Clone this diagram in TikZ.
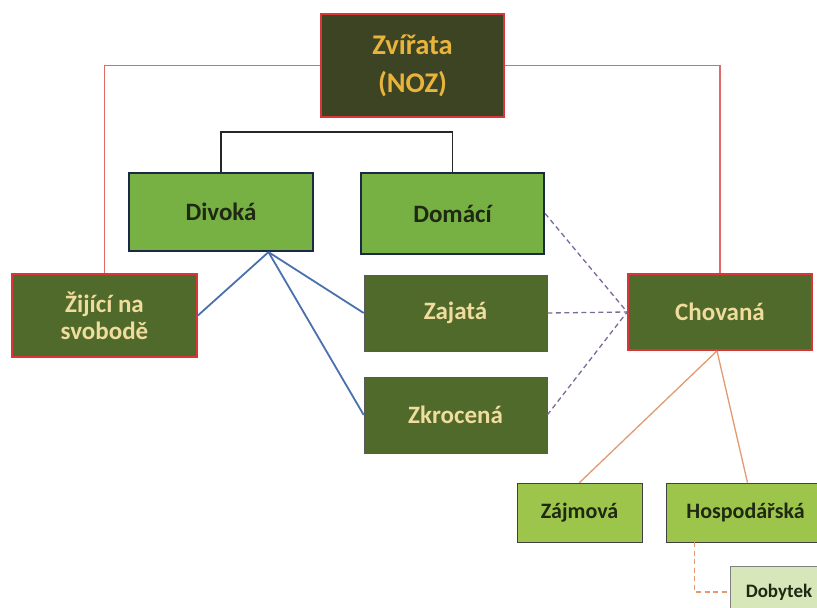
\documentclass[tikz,border=0pt]{standalone}
\usepackage{fontspec}
\setmainfont{Carlito}
\usetikzlibrary{calc}
\definecolor{zvfill}{HTML}{3C4423}
\definecolor{zvtext}{HTML}{E8B43C}
\definecolor{redb}{HTML}{D8363A}
\definecolor{redl}{HTML}{E06A6A}
\definecolor{olive}{HTML}{4F6A2B}
\definecolor{tan}{HTML}{F0DC9C}
\definecolor{green1}{HTML}{77B143}
\definecolor{navy}{HTML}{1B2846}
\definecolor{green2}{HTML}{9DC54C}
\definecolor{green3}{HTML}{D7E7B9}
\definecolor{bluel}{HTML}{4A70AE}
\definecolor{purpl}{HTML}{7C6A98}
\definecolor{orangel}{HTML}{E29A72}
\definecolor{darktext}{HTML}{1E2812}
\begin{document}
\begin{tikzpicture}[x=1pt,y=-1pt,
  box/.style={rectangle,inner sep=0pt,align=center,font=\bfseries\fontsize{25}{27}\selectfont},
  topbox/.style={box,fill=zvfill,draw=redb,line width=1.8pt,text=zvtext,font=\bfseries\fontsize{28.5}{38}\selectfont},
  redbox/.style={box,fill=olive,draw=redb,line width=1.8pt,text=tan},
  darkbox/.style={box,fill=olive,draw=gray!70!black,line width=0.6pt,text=tan},
  greenbox/.style={box,fill=green1,draw=navy,line width=2.2pt,text=darktext},
  lightbox/.style={box,fill=green2,draw=black!75,line width=0.8pt,text=darktext,font=\bfseries\fontsize{22}{26}\selectfont},
  palebox/.style={box,fill=green3,draw=gray,line width=0.6pt,text=darktext,font=\bfseries\fontsize{19}{22}\selectfont},
  redline/.style={draw=redl,line width=1.1pt},
  blackline/.style={draw=black!85,line width=1.6pt},
  blueline/.style={draw=bluel,line width=1.8pt},
  purpline/.style={draw=purpl,line width=1.3pt,dash pattern=on 5pt off 3.5pt},
  orangeline/.style={draw=orangel,line width=1.3pt},
  orangedash/.style={draw=orangel,line width=1.3pt,dash pattern=on 5pt off 3.5pt}]
\clip (0,0) rectangle (817,608);
\fill[white] (0,0) rectangle (817,608);
% nodes
\node[topbox,minimum width=183pt,minimum height=103pt] (zv) at (412.5,65.5) {Zvířata\\(NOZ)};
\node[greenbox,minimum width=184pt,minimum height=78pt] (div) at (221,212) {Divoká};
\node[greenbox,minimum width=183pt,minimum height=81pt] (dom) at (452.5,213.5) {Domácí};
\node[redbox,minimum width=185pt,minimum height=83pt] (zij) at (104.5,315.5) {Žijící na\\svobodě};
\node[darkbox,minimum width=183pt,minimum height=76pt] (zaj) at (455.5,313) {Zajatá};
\node[darkbox,minimum width=183pt,minimum height=76pt] (zkr) at (455.5,415) {Zkrocená};
\node[redbox,minimum width=184pt,minimum height=76pt] (chov) at (720,312) {Chovaná};
\node[lightbox,minimum width=125pt,minimum height=59pt] (zaj2) at (579.5,512.5) {Zájmová};
\node[lightbox,minimum width=159pt,minimum height=59pt] (hosp) at (745.5,512.5) {Hospodářská};
\node[palebox,minimum width=98pt,minimum height=52pt] (dob) at (779,592) {Dobytek};
% connectors
\coordinate (bar) at (0,132);
\draw[blackline] (div.north) -- (div.north |- bar) -- (dom.north |- bar) -- (dom.north);
\draw[blackline] ($(zv.south)+(-6,0)$) -- ($(zv.south)+(-6,0)$ |- bar);
\draw[redline] (zv.west) -| (zij.north);
\draw[redline] (zv.east) -| (chov.north);
\coordinate (dvb) at ($(div.south west)!0.755!(div.south east)$);
\draw[blueline] (dvb) -- (zij.east);
\draw[blueline] (dvb) -- (zaj.west);
\draw[blueline] (dvb) -- (zkr.west);
\draw[purpline] (dom.east) -- (chov.west);
\draw[purpline] (zaj.east) -- (chov.west);
\draw[purpline] (zkr.east) -- (chov.west);
\draw[orangeline] ($(chov.south)+(-3,0)$) -- (zaj2.north);
\draw[orangeline] ($(chov.south)+(-3,0)$) -- ($(hosp.north)+(2,0)$);
\draw[orangedash] ($(hosp.south west)+(29,0)$) |- (dob.west);
\end{tikzpicture}
\end{document}
